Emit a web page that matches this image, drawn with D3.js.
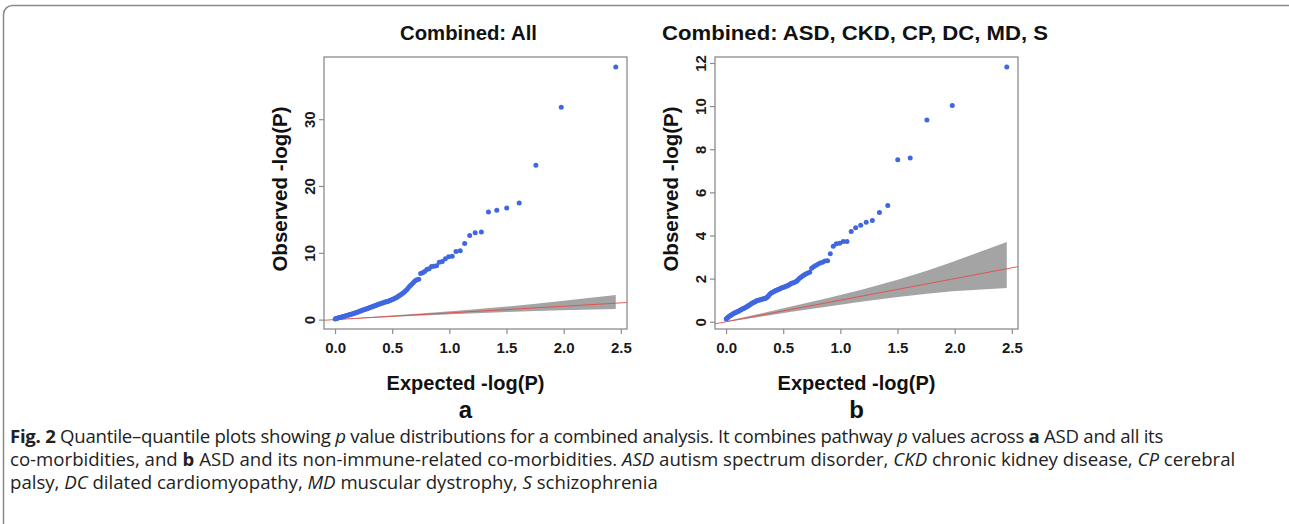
<!DOCTYPE html>
<html><head><meta charset="utf-8">
<script src="https://cdn.jsdelivr.net/npm/d3@7"></script>
<style>
body{margin:0;background:#fff}
svg{display:block}
</style>
</head><body>
<svg id="c" width="1289" height="524"></svg>
<script>
// ---------------- DATA ----------------
const titleA = "Combined: All";
const titleB = "Combined: ASD, CKD, CP, DC, MD, S";
const xLabel = "Expected -log(P)";
const yLabel = "Observed -log(P)";
const panelLetters = ["a", "b"];

const xTicks = [0, 0.5, 1.0, 1.5, 2.0, 2.5];
const yTicksA = [0, 10, 20, 30];
const yTicksB = [0, 2, 4, 6, 8, 10, 12];

// Panel a: expected vs observed -log(P)
const expectedA = [2.456,1.979,1.757,1.611,1.502,1.415,1.342,1.280,1.226,1.178,1.134,1.095,1.058,1.025,0.994,0.965,0.938,0.912,0.888,0.865,0.844,0.823,0.803,0.784,0.766,0.749,0.732,0.716,0.701,0.686,
 0.671,0.657,0.643,0.630,0.617,0.604,0.592,0.580,0.568,0.556,0.545,0.534,0.523,0.512,0.501,0.491,0.480,0.470,0.460,0.450,0.440,0.430,0.420,0.410,0.400,0.390,0.380,0.370,0.360,0.350,0.340,0.330,0.320,0.310,0.300,0.290,0.280,0.270,0.260,0.250,0.240,0.230,0.220,0.210,0.200,0.190,0.180,0.170,0.160,0.150,0.140,0.130,0.120,0.110,0.100,0.090,0.080,0.070,0.060,0.050,0.040,0.030,0.020,0.012,0.006,0.0015];
const observedA = [37.8,31.8,23.1,17.45,16.7,16.35,16.1,13.1,13.0,12.6,11.4,10.3,10.2,9.5,9.4,9.1,8.7,8.6,8.05,8.0,7.95,7.6,7.5,7.2,7.0,6.9,6.05,5.95,5.8,5.55,
 5.3,5.05,4.8,4.5,4.3,4.1,3.95,3.8,3.66,3.52,3.4,3.28,3.18,3.1,3.02,2.95,2.86,2.78,2.72,2.66,2.62,2.58,2.52,2.45,2.4,2.35,2.28,2.22,2.15,2.08,2.02,1.95,1.89,1.83,1.76,1.7,1.63,1.57,1.52,1.47,1.41,1.34,1.27,1.2,1.14,1.08,1.02,0.96,0.9,0.85,0.8,0.75,0.7,0.65,0.6,0.55,0.5,0.45,0.4,0.36,0.31,0.26,0.21,0.17,0.13,0.1];

// Panel b
const expectedB = [2.456,1.979,1.757,1.611,1.502,1.415,1.342,1.280,1.226,1.178,1.134,1.095,1.058,1.025,0.994,0.965,0.938,0.912,0.888,0.865,0.844,0.823,0.803,0.784,0.766,0.749,
 0.732,0.716,0.701,0.686,0.672,0.658,0.645,0.632,0.620,0.608,0.596,0.584,0.572,0.560,0.548,0.537,0.526,0.515,0.504,0.493,0.482,0.472,0.462,0.452,0.442,0.432,0.422,0.412,0.402,0.392,0.382,0.372,0.362,0.352,0.342,0.332,0.322,0.312,0.302,0.292,0.282,0.272,0.262,0.252,0.242,0.232,0.222,0.212,0.202,0.192,0.182,0.172,0.162,0.152,0.142,0.132,0.122,0.112,0.102,0.092,0.082,0.072,0.062,0.052,0.042,0.032,0.022,0.014,0.007,0.0015];
const observedB = [11.81,10.03,9.36,7.59,7.51,5.39,5.07,4.70,4.61,4.47,4.36,4.19,3.72,3.72,3.64,3.62,3.5,3.15,2.83,2.82,2.76,2.72,2.66,2.61,2.55,2.48,
 2.3,2.26,2.22,2.18,2.13,2.08,2.03,1.96,1.89,1.85,1.82,1.8,1.78,1.74,1.7,1.67,1.64,1.62,1.6,1.58,1.56,1.53,1.51,1.48,1.46,1.44,1.41,1.38,1.35,1.32,1.27,1.21,1.15,1.11,1.08,1.06,1.05,1.04,1.02,1.01,1.0,0.98,0.95,0.92,0.9,0.87,0.84,0.8,0.77,0.74,0.7,0.67,0.64,0.61,0.59,0.56,0.53,0.5,0.47,0.45,0.42,0.4,0.37,0.34,0.3,0.27,0.23,0.19,0.16,0.13];

// 95% confidence band (expected, lower, upper)
const bandX  = [0.0015, 0.043, 0.157, 0.313, 0.559, 0.865, 1.178, 1.502, 1.757, 1.979, 2.456];
const bandLo = [0.0001, 0.020, 0.113, 0.246, 0.457, 0.683, 0.923, 1.145, 1.296, 1.41, 1.57];
const bandHi = [0.011, 0.066, 0.207, 0.394, 0.693, 1.068, 1.475, 1.945, 2.364, 2.77, 3.70];

// caption
const captionLines = [
  [["Fig. 2","b"],[" Quantile–quantile plots showing ",""],["p","i"],[" value distributions for a combined analysis. It combines pathway ",""],["p","i"],[" values across ",""],["a","b"],[" ASD and all its",""]],
  [["co-morbidities, and ",""],["b","b"],[" ASD and its non-immune-related co-morbidities. ",""],["ASD","i"],[" autism spectrum disorder, ",""],["CKD","i"],[" chronic kidney disease, ",""],["CP","i"],[" cerebral",""]],
  [["palsy, ",""],["DC","i"],[" dilated cardiomyopathy, ",""],["MD","i"],[" muscular dystrophy, ",""],["S","i"],[" schizophrenia",""]]
];

// ---------------- DRAW ----------------
const svg = d3.select("#c");
const FONT = "'Liberation Sans', Arial, Helvetica, sans-serif";

svg.append("rect").attr("x",3.5).attr("y",5.5).attr("width",1300).attr("height",600)
  .attr("rx",9).attr("fill","none").attr("stroke","#8a8a8a").attr("stroke-width",1.5);

const panels = [
  {title:titleA, titleCx:468.5, titleW:137, ex:expectedA, ob:observedA, yTicks:yTicksA, box:{l:324,t:57,r:627,b:329}, letter:panelLetters[0]},
  {title:titleB, titleCx:855,   titleW:386, ex:expectedB, ob:observedB, yTicks:yTicksB, box:{l:715,t:57,r:1018,b:329}, letter:panelLetters[1]}
];

function padExtent(arr){
  const [lo,hi] = d3.extent(arr); const d=(hi-lo)*0.04; return [lo-d, hi+d];
}

panels.forEach((p,pi)=>{
  const b = p.box;
  const x = d3.scaleLinear().domain(padExtent(p.ex)).range([b.l,b.r]);
  const y = d3.scaleLinear().domain(padExtent(p.ob)).range([b.b,b.t]);
  const g = svg.append("g");
  const clipId = "clip"+pi;
  g.append("clipPath").attr("id",clipId).append("rect")
    .attr("x",b.l).attr("y",b.t).attr("width",b.r-b.l).attr("height",b.b-b.t);

  const bandData = bandX.map((v,i)=>({x:v,lo:bandLo[i],hi:bandHi[i]}));
  g.append("path").datum(bandData)
    .attr("d", d3.area().x(d=>x(d.x)).y0(d=>y(d.lo)).y1(d=>y(d.hi)))
    .attr("fill","#a4a4a4").attr("clip-path",`url(#${clipId})`);

  const xd = x.domain();
  g.append("line").attr("clip-path",`url(#${clipId})`)
    .attr("x1",x(xd[0])).attr("y1",y(xd[0])).attr("x2",x(xd[1])).attr("y2",y(xd[1]))
    .attr("stroke","#e84a4a").attr("stroke-width",0.9);

  const pts = p.ex.map((v,i)=>({x:v,y:p.ob[i]}));
  g.selectAll("circle.pt").data(pts).enter().append("circle")
    .attr("cx",d=>x(d.x)).attr("cy",d=>y(d.y)).attr("r",2.5).attr("fill","#3f67e0");

  g.append("rect").attr("x",b.l).attr("y",b.t).attr("width",b.r-b.l).attr("height",b.b-b.t)
    .attr("fill","none").attr("stroke","#8c8c8c").attr("stroke-width",1.3);

  const xa = g.append("g").attr("transform",`translate(0,${b.b})`)
    .call(d3.axisBottom(x).tickValues(xTicks).tickFormat(d3.format(".1f")).tickSize(5).tickPadding(8));
  xa.select(".domain").remove();
  xa.selectAll("line").attr("stroke","#8c8c8c").attr("stroke-width",1.2);
  xa.selectAll("text").attr("font-family",FONT).attr("font-weight","bold").attr("font-size",15).attr("fill","#1a1a1a");

  const ya = g.append("g").attr("transform",`translate(${b.l},0)`)
    .call(d3.axisLeft(y).tickValues(p.yTicks).tickSize(5).tickFormat(d3.format("d")));
  ya.select(".domain").remove();
  ya.selectAll("line").attr("stroke","#8c8c8c").attr("stroke-width",1.2);
  ya.selectAll("text").attr("x",null).attr("dy",null)
    .attr("transform","translate(-9,0) rotate(-90)")
    .attr("text-anchor","middle").attr("dy","0")
    .attr("font-family",FONT).attr("font-weight","bold").attr("font-size",15).attr("fill","#1a1a1a");

  const cx = (b.l+b.r)/2;
  g.append("text").attr("x",p.titleCx).attr("y",40).attr("text-anchor","middle")
    .attr("font-family",FONT).attr("font-weight","bold").attr("font-size",19.5).attr("fill","#111")
    .attr("textLength",p.titleW).attr("lengthAdjust","spacingAndGlyphs")
    .text(p.title);
  g.append("text").attr("transform",`translate(${b.l-37},${(b.t+b.b)/2-4}) rotate(-90)`)
    .attr("text-anchor","middle")
    .attr("font-family",FONT).attr("font-weight","bold").attr("font-size",20.5).attr("fill","#111")
    .text(yLabel);
  g.append("text").attr("x",cx-10).attr("y",390).attr("text-anchor","middle")
    .attr("font-family",FONT).attr("font-weight","bold").attr("font-size",20).attr("fill","#111")
    .text(xLabel);
  g.append("text").attr("x",cx-10).attr("y",418).attr("text-anchor","middle")
    .attr("font-family",FONT).attr("font-weight","bold").attr("font-size",24).attr("fill","#111")
    .text(p.letter);
});

// caption
const CAP_FONT = "'Open Sans', 'Noto Sans', sans-serif";
const capBase = [443, 466, 489];
const capWidths = [1153, 1226, 650];
const capEls = captionLines.map((segs,li)=>{
  const t = svg.append("text").attr("x",10).attr("y",capBase[li])
    .attr("font-family",CAP_FONT).attr("font-size",16).attr("fill","#222");
  segs.forEach(s=>{
    const ts = t.append("tspan").text(s[0]);
    if(s[1]==="b") ts.attr("font-weight","bold");
    if(s[1]==="i") ts.attr("font-style","italic");
  });
  return t;
});
const w2 = capEls[1].node().getComputedTextLength();
const fs = 16*capWidths[1]/w2;
capEls.forEach(t=>t.attr("font-size",fs));
const t0 = capEls[0].node();
const w0 = t0.getComputedTextLength();
const nChars = t0.textContent.length;
const ls = (capWidths[0]-w0)/nChars;
capEls[0].attr("letter-spacing", ls.toFixed(3));
</script>
</body></html>
